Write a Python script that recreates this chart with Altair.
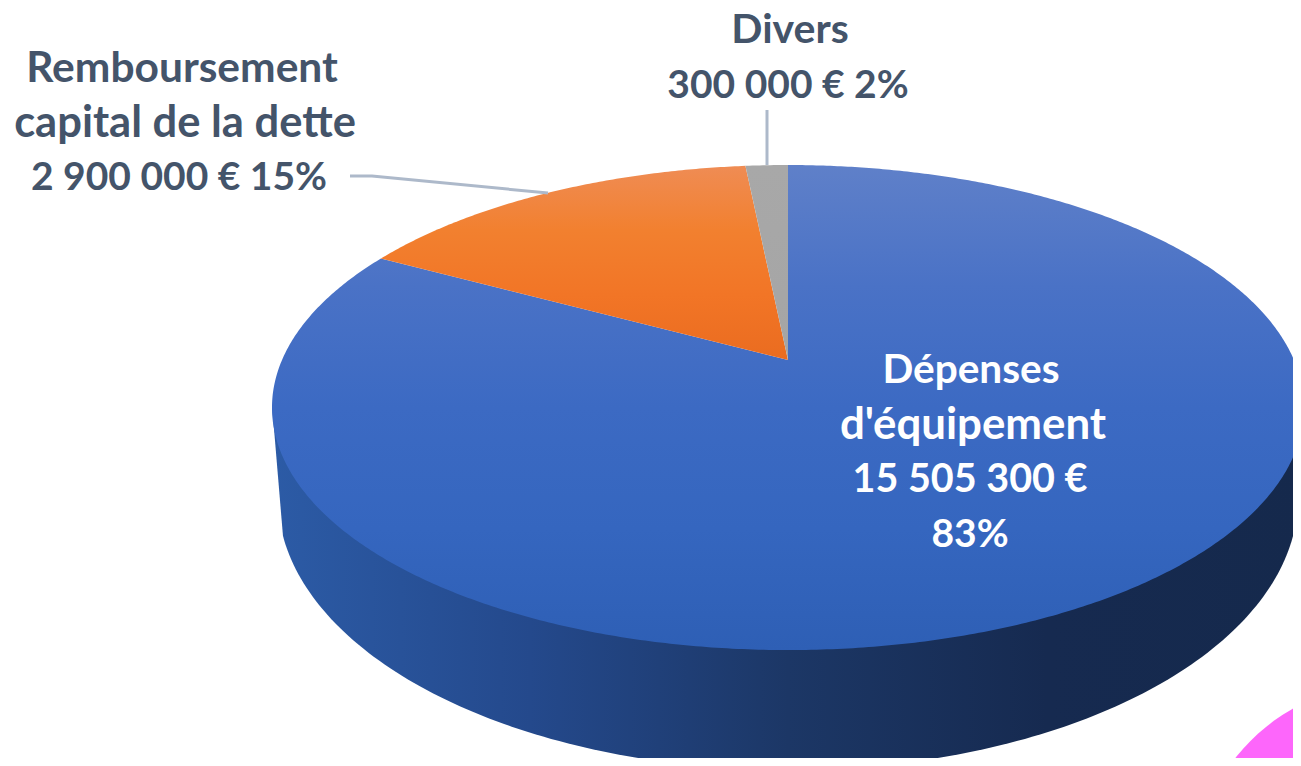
import math
import altair as alt

categories = ["Dépenses d'équipement", "Remboursement capital de la dette", "Divers"]
values = [15505300, 2900000, 300000]

wedge_fill = [
    ["#5f80c9", "#4a72c6", "#3c6ac3", "#3566bf", "#2e5fb5"],
    ["#ef8c54", "#f2802f", "#f27526", "#ea6c20"],
    ["#a8a8a8", "#a5a5a5"],
]
wall_fill = ["#2c5ba6", "#24498c", "#1c3766", "#162a50", "#15294c"]
label_dark = ["#44546a"]
label_light = ["#ffffff"]
leader = "#adb9ca"
spot = "#fd66fb"

text_dark = ["Remboursement", "capital de la dette", "2 900 000 € 15%", "Divers", "300 000 € 2%"]
text_light = ["Dépenses", "d'équipement", "15 505 300 €", "83%"]
size_dark = [42.5, 43.5, 39, 41, 39]
size_light = [40.6, 43.8, 39.5, 39]

# Perspective view of the pie disc, relative to the pie's apex
K, A, B = 0.196, 233.2, 506.0
OX, OY = 780, 352


def rim(theta):
    """theta in radians clockwise from the back of the pie"""
    u, v = math.sin(theta), math.cos(theta)
    w = 1 + K * v
    return [B * u / w, -A * v / w]


def wedge(start, end):
    n = max(8, int((end - start) * 120))
    return [[0, 0]] + [rim(start + (end - start) * i / n) for i in range(n + 1)] + [[0, 0]]


def poly(pts):
    return {"type": "FeatureCollection",
            "features": [{"type": "Feature", "properties": {},
                          "geometry": {"type": "Polygon", "coordinates": [pts]}}]}


def line(pts):
    return {"type": "FeatureCollection",
            "features": [{"type": "Feature", "properties": {},
                          "geometry": {"type": "LineString", "coordinates": pts}}]}


def shape(data, mark):
    return alt.Chart(alt.InlineData(values=data, format=alt.JsonDataFormat(property="features"))).mark_geoshape(**mark).project(
        type="identity", scale=1, translate=[OX, OY])


def grad(colors, horizontal=False):
    stops = [alt.GradientStop(offset=i / (len(colors) - 1), color=c) for i, c in enumerate(colors)]
    if horizontal:
        return alt.Gradient(gradient="linear", stops=stops, x1=0, x2=1, y1=0, y2=0)
    return alt.Gradient(gradient="linear", stops=stops, x1=0, x2=0, y1=0, y2=1)


total = sum(values)
layers = []

# side wall: lower rim of the disc
lower = []
WX, WY, WC = 510.0, 272.0, 138.0
for i in range(161):
    a = math.radians(8 + 164 * i / 160)
    lower.append([-WX * math.cos(a), WC + WY * math.sin(a)])
wall = [[-516, 45]] + lower + [[517, 45], [-516, 45]]
layers.append(shape(poly(wall), dict(color=grad(wall_fill, True), strokeWidth=0)))

# top wedges, clockwise from the back
angle = 0.0
for val, cols in zip(values, wedge_fill):
    sweep = 2 * math.pi * val / total
    layers.append(shape(poly(wedge(angle, angle + sweep)), dict(color=grad(cols), strokeWidth=0)))
    angle += sweep

# leader lines
for pts in ([[-438, -184], [-416, -184], [-240, -167]], [[-21, -250], [-21, -195]]):
    layers.append(shape(line(pts), dict(filled=False, stroke=leader, strokeWidth=3)))

# stray shape at the corner
blob = [[1390 - 788 + 197 * math.cos(i * math.pi / 60), 880 - 360 + 197 * math.sin(i * math.pi / 60)] for i in range(121)]
layers.append(shape(poly(blob), dict(color=spot, strokeWidth=0)))


def text_rows(rows, sizes, xs, ys, color):
    return alt.Chart(alt.Data(values=[{"t": t, "s": s, "x": x - 8, "y": y - 8}
                                      for t, s, x, y in zip(rows, sizes, xs, ys)])).mark_text(
        font="Lato", fontWeight="bold", color=color, baseline="alphabetic", align="center"
    ).encode(x=alt.X("x:Q", scale=None), y=alt.Y("y:Q", scale=None),
             size=alt.Size("s:Q", scale=None, legend=None), text="t:N")


layers.append(text_rows(text_dark, size_dark, [182, 185, 179, 790, 788], [82, 137, 190, 43, 98], label_dark[0]))
layers.append(text_rows(text_light, size_light, [971, 973, 970, 970], [383, 439, 492, 547], label_light[0]))

chart = alt.layer(*layers).properties(
    width=1285, height=750, padding=0, autosize=alt.AutoSizeParams(type="none")
).configure_view(stroke=None)

chart.save("out.html", embed_options={"renderer": "svg", "actions": False})
